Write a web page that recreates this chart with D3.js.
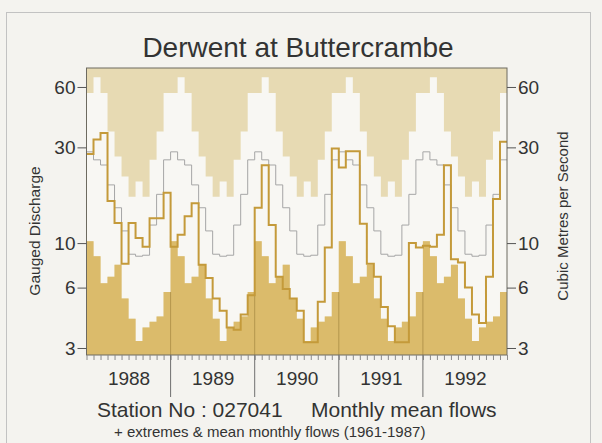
<!DOCTYPE html>
<html><head><meta charset="utf-8">
<script src="https://cdn.jsdelivr.net/npm/d3@7"></script>
<style>
html,body{margin:0;padding:0;background:#f4f3ef;}
svg{display:block;font-family:"Liberation Sans",Arial,Helvetica,sans-serif;}
</style></head>
<body><svg id="c" width="602" height="443"></svg>
<script>
// ---- data ----
const years = ["1988","1989","1990","1991","1992"];
const monthNames = ["Jan","Feb","Mar","Apr","May","Jun","Jul","Aug","Sep","Oct","Nov","Dec"];
// 1961-1987 monthly extremes and means (m3/s)
const maxFlow  = [56, 67, 56, 36, 27, 21.5, 17, 20.3, 17, 26, 36, 56];
const minFlow  = [10.2, 8.6, 6.3, 6.8, 7.8, 5.3, 4.2, 3.25, 3.8, 4.05, 4.3, 5.7];
const meanFlow = [28.5, 26, 24.5, 19.5, 15, 11.5, 8.8, 8.6, 8.7, 12.3, 17.5, 26];
// monthly mean flows 1988-1992
const flow1988 = [27.8, 32.8, 35.4, 16.2, 12.6, 7.9, 12.6, 10.6, 9.6, 13.3, 13.3, 17.8];
const flow1989 = [9.6, 11.0, 13.6, 15.8, 7.8, 6.7, 5.3, 4.6, 3.8, 3.7, 4.4, 5.5];
const flow1990 = [15.0, 24.4, 12.3, 6.8, 5.9, 5.3, 4.6, 3.2, 3.2, 5.1, 9.5, 29.6];
const flow1991 = [23.8, 28.7, 28.7, 12.5, 7.9, 6.8, 4.8, 3.85, 3.2, 3.2, 10.0, 9.5];
const flow1992 = [9.7, 9.6, 11.0, 24.4, 8.3, 8.0, 6.0, 4.4, 4.0, 6.8, 16.6, 32.0];
const yTicks = [3, 6, 10, 30, 60];

// ---- build series ----
const observed = [].concat(flow1988, flow1989, flow1990, flow1991, flow1992);
const nM = observed.length;
const rows = d3.range(nM + 1).map(i => {
  const k = Math.min(i, nM - 1) % 12;
  return {i, obs: observed[Math.min(i, nM - 1)], max: maxFlow[k], min: minFlow[k], mean: meanFlow[k]};
});

const svg = d3.select("#c");
const X0 = 86.5, X1 = 507, Y0 = 68, Y1 = 355;
const x = d3.scaleLinear().domain([0, nM]).range([X0, X1]);
const y = d3.scaleLog().domain([2.768, 74.6]).range([Y1, Y0]);

const C = {bg:"#f4f3ef", tan:"#e7dab3", band:"#f8f7f3", gold:"#dbbb6b", line:"#c49a3a", mean:"#a6a6a6", text:"#333", axis:"#555"};

// outer frame
svg.append("rect").attr("x",6.5).attr("y",12.5).attr("width",584).attr("height",450)
  .attr("fill","none").attr("stroke","#c2c2c2").attr("stroke-width",1);

// title
svg.append("text").attr("x",298).attr("y",57).attr("text-anchor","middle")
  .attr("font-size",28).attr("fill",C.text).text("Derwent at Buttercrambe");

// plot background (above max)
const g = svg.append("g");
g.append("rect").attr("x",X0).attr("y",Y0).attr("width",X1-X0).attr("height",Y1-Y0).attr("fill",C.tan);

// white band between extremes
g.append("path").datum(rows)
  .attr("d", d3.area().curve(d3.curveStepAfter).x(d=>x(d.i)).y0(d=>y(d.min)).y1(d=>y(d.max)))
  .attr("fill",C.band);
// below minimum
g.append("path").datum(rows)
  .attr("d", d3.area().curve(d3.curveStepAfter).x(d=>x(d.i)).y0(Y1).y1(d=>y(d.min)))
  .attr("fill",C.gold);

// year separators inside the gold region
const yearBounds = d3.range(1, years.length);
g.selectAll("line.ysep").data(yearBounds).join("line")
  .attr("x1",d=>x(d*12)).attr("x2",d=>x(d*12))
  .attr("y1",Y1).attr("y2",y(Math.min(minFlow[0], minFlow[11])))
  .attr("stroke","#a98c45").attr("stroke-width",0.8);

// mean line
g.append("path").datum(rows)
  .attr("d", d3.line().curve(d3.curveStepAfter).x(d=>x(d.i)).y(d=>y(d.mean)))
  .attr("fill","none").attr("stroke",C.mean).attr("stroke-width",1);

// observed
g.append("path").datum(rows)
  .attr("d", d3.line().curve(d3.curveStepAfter).x(d=>x(d.i)).y(d=>y(d.obs)))
  .attr("fill","none").attr("stroke",C.line).attr("stroke-width",2);

// frame
svg.append("rect").attr("x",X0).attr("y",Y0).attr("width",X1-X0).attr("height",Y1-Y0)
  .attr("fill","none").attr("stroke","#6d6a60").attr("stroke-width",1);

// y axes
const fmt = d3.format("d");
const ax = svg.append("g").attr("transform",`translate(${X0},0)`)
  .call(d3.axisLeft(y).tickValues(yTicks).tickFormat(fmt).tickSize(9).tickPadding(2));
const ax2 = svg.append("g").attr("transform",`translate(${X1},0)`)
  .call(d3.axisRight(y).tickValues(yTicks).tickFormat(fmt).tickSize(9).tickPadding(2));
[ax, ax2].forEach(a => {
  a.select(".domain").remove();
  a.selectAll("line").attr("stroke",C.axis);
  a.selectAll("text").attr("font-size",19).attr("fill",C.text).attr("font-family","Liberation Sans, Arial, sans-serif");
});

// bottom: month ticks
const bx = svg.append("g").attr("transform",`translate(0,${Y1})`)
  .call(d3.axisBottom(x).tickValues(d3.range(0, nM + 1)).tickSize(5).tickFormat(""));
bx.select(".domain").remove();
bx.selectAll("line").attr("stroke","#8a8a8a");
// year separators below
svg.selectAll("line.ysep2").data(yearBounds).join("line")
  .attr("x1",d=>x(d*12)).attr("x2",d=>x(d*12)).attr("y1",Y1).attr("y2",397)
  .attr("stroke","#6f6f6f").attr("stroke-width",1);
// year labels
const yl = svg.append("g").attr("transform",`translate(0,${Y1})`)
  .call(d3.axisBottom(x).tickValues(years.map((_,k)=>k*12+6)).tickSize(0).tickPadding(17)
    .tickFormat((d,k)=>years[k]));
yl.select(".domain").remove();
yl.selectAll("text").attr("font-size",19).attr("fill",C.text).attr("font-family","Liberation Sans, Arial, sans-serif");

// axis titles
svg.append("text").attr("transform","translate(40,231) rotate(-90)").attr("text-anchor","middle")
  .attr("font-size",15.5).attr("fill",C.text).text("Gauged Discharge");
svg.append("text").attr("transform","translate(568,216) rotate(-90)").attr("text-anchor","middle")
  .attr("font-size",15).attr("fill",C.text).text("Cubic Metres per Second");

// footer
svg.append("text").attr("x",97).attr("y",417).attr("font-size",21).attr("fill",C.text).text("Station No : 027041");
svg.append("text").attr("x",311).attr("y",417).attr("font-size",21).attr("fill",C.text).text("Monthly mean flows");
svg.append("text").attr("x",114).attr("y",437).attr("font-size",15).attr("fill",C.text).text("+ extremes & mean monthly flows (1961-1987)");
</script></body></html>
